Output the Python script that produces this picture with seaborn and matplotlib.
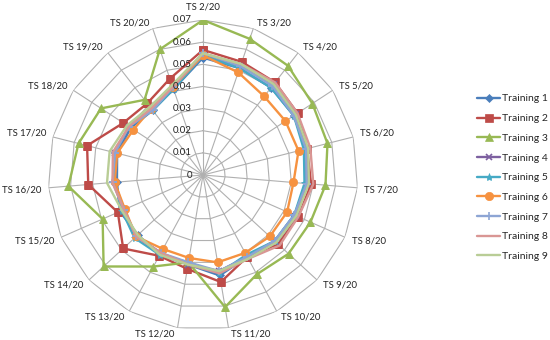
import numpy as np
import pandas as pd
import matplotlib
matplotlib.use("Agg")
import matplotlib.pyplot as plt
import seaborn as sns

# categories (spokes), clockwise from the top
categories = [f"TS {i}/20" for i in range(2, 21)]

training_1 = [0.053, 0.051, 0.050, 0.049, 0.048, 0.047, 0.045, 0.044, 0.042, 0.046,
              0.041, 0.041, 0.040, 0.041, 0.039, 0.040, 0.039, 0.037, 0.041]
training_2 = [0.0565, 0.054, 0.053, 0.051, 0.0485, 0.049, 0.047, 0.046, 0.042, 0.049,
              0.043, 0.0415, 0.049, 0.042, 0.052, 0.054, 0.043, 0.041, 0.046]
training_3 = [0.070, 0.065, 0.0625, 0.059, 0.058, 0.0555, 0.053, 0.0525, 0.051, 0.0605,
              0.040, 0.047, 0.061, 0.0495, 0.061, 0.058, 0.055, 0.043, 0.060]
training_4 = [0.054, 0.052, 0.052, 0.050, 0.048, 0.047, 0.046, 0.045, 0.042, 0.044,
              0.041, 0.040, 0.041, 0.039, 0.040, 0.041, 0.040, 0.038, 0.042]
training_5 = [0.054, 0.051, 0.050, 0.049, 0.047, 0.046, 0.045, 0.044, 0.041, 0.045,
              0.040, 0.041, 0.042, 0.040, 0.040, 0.041, 0.040, 0.037, 0.041]
training_6 = [0.054, 0.049, 0.045, 0.0445, 0.0445, 0.041, 0.0415, 0.041, 0.040, 0.040,
              0.038, 0.038, 0.041, 0.0385, 0.040, 0.040, 0.0375, 0.038, 0.042]
training_7 = [0.055, 0.052, 0.051, 0.049, 0.048, 0.047, 0.045, 0.044, 0.042, 0.044,
              0.040, 0.040, 0.041, 0.039, 0.041, 0.041, 0.040, 0.037, 0.042]
training_8 = [0.055, 0.053, 0.053, 0.051, 0.050, 0.050, 0.047, 0.047, 0.043, 0.045,
              0.041, 0.040, 0.041, 0.039, 0.041, 0.042, 0.040, 0.038, 0.042]
training_9 = [0.055, 0.053, 0.052, 0.050, 0.049, 0.048, 0.046, 0.045, 0.043, 0.044,
              0.041, 0.041, 0.040, 0.040, 0.0435, 0.0435, 0.041, 0.039, 0.043]

series_names = [f"Training {i}" for i in range(1, 10)]
series_values = [training_1, training_2, training_3, training_4, training_5,
                 training_6, training_7, training_8, training_9]

ring_values = [0.01, 0.02, 0.03, 0.04, 0.05, 0.06, 0.07]
ring_labels = ["0", "0.01", "0.02", "0.03", "0.04", "0.05", "0.06", "0.07"]

colors = ["#4A7EBB", "#BE4B48", "#98B954", "#7D60A0", "#46AAC5",
          "#F69240", "#8DA5D4", "#D99694", "#B9CD96"]
markers = ["D", "s", "^", "x", "*", "o", "+", "None", "None"]
msizes = [4, 5.5, 6, 5, 6, 6, 6, 0, 0]

sns.set_style("white")
plt.rcParams["font.family"] = ["Lato", "DejaVu Sans"]

fig = plt.figure(figsize=(5.5, 3.4), dpi=100)
ax = fig.add_axes([48 / 550, 10 / 340, 310 / 550, 310 / 340], projection="polar")
ax.set_theta_zero_location("N")
ax.set_theta_direction(-1)

n = len(categories)
theta = np.linspace(0, 2 * np.pi, n, endpoint=False)
theta_closed = np.append(theta, theta[0] + 2 * np.pi)

# polygon grid + spokes
grid_color = "#B0B0B0"
for rv in ring_values:
    ax.plot(theta_closed, [rv] * (n + 1), color=grid_color, lw=0.8, zorder=1)
for t in theta:
    ax.plot([t, t], [0, 0.07], color=grid_color, lw=0.8, zorder=1)

ax.grid(False)
ax.spines["polar"].set_visible(False)
ax.set_xticks([])
ax.set_yticks([])
ax.set_ylim(0, 0.07)

# data series
for name, vals, c, m, ms in zip(series_names, series_values, colors, markers, msizes):
    df = pd.DataFrame({"theta": theta_closed, "value": vals + [vals[0]]})
    sns.lineplot(data=df, x="theta", y="value", sort=False, estimator=None,
                 color=c, marker=m, markersize=ms, markeredgecolor=c,
                 markeredgewidth=1.2 if m in ("x", "+") else 0.5,
                 lw=1.7, ax=ax, label=name, zorder=3)

ax.set_xlabel("")
ax.set_ylabel("")
ax.get_legend().remove()

# category labels, placed just outside each outer vertex (Excel-like)
for t, lab in zip(theta, categories):
    s, c = np.sin(t), np.cos(t)
    if abs(s) < 0.05:
        ha, dx, dy = "center", 0, 13
    else:
        ha = "left" if s > 0 else "right"
        dx = (2 + 5 * abs(s)) * np.sign(s)
        dy = 3 + 3 * c if c > 0 else -(2 + 4 * abs(c))
    ax.annotate(lab, xy=(t, 0.07), xytext=(dx, dy), textcoords="offset pixels",
                ha=ha, va="center", fontsize=6.8, color="#222222")

# radial value labels along top spoke
for rv, lab in zip([0] + ring_values, ring_labels):
    ax.annotate(lab, xy=(0, rv), xytext=(-11, 0), textcoords="offset pixels",
                ha="right", va="center", fontsize=7, color="#222222")

handles, labels = ax.get_legend_handles_labels()
fig.legend(handles, labels, loc="upper left", bbox_to_anchor=(473 / 550, 1 - 90 / 340),
           frameon=False, fontsize=7.5, handlelength=2.2, handletextpad=0.15,
           labelspacing=1.0, numpoints=1, borderaxespad=0)

fig.savefig("out.png", dpi=100)
